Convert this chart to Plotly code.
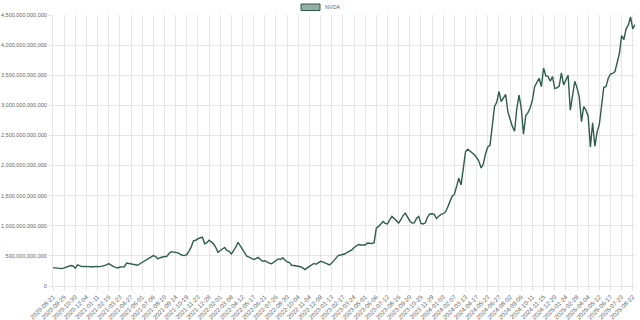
import pandas as pd
import plotly.graph_objects as go

series_name = "NVDA"

tick_labels = [
    "2020-08-21", "2020-09-25", "2020-10-30", "2020-12-04", "2021-01-11", "2021-02-16",
    "2021-03-23", "2021-04-27", "2021-06-01", "2021-07-06", "2021-08-10", "2021-09-14",
    "2021-10-19", "2021-11-23", "2021-12-28", "2022-02-01", "2022-03-08", "2022-04-12",
    "2022-05-17", "2022-06-21", "2022-07-26", "2022-08-30", "2022-10-04", "2022-11-04",
    "2022-12-09", "2023-01-13", "2023-02-17", "2023-03-24", "2023-05-01", "2023-06-06",
    "2023-07-12", "2023-08-16", "2023-09-20", "2023-10-25", "2023-11-29", "2024-01-03",
    "2024-02-07", "2024-03-13", "2024-04-17", "2024-05-23", "2024-06-27", "2024-08-02",
    "2024-09-06", "2024-10-11", "2024-11-15", "2024-12-20", "2025-01-24", "2025-02-28",
    "2025-04-04", "2025-05-12", "2025-06-17", "2025-07-23", "2025-08-22",
]
last_date = "2025-08-29"

# market cap, billions USD
market_cap_b = [
    305, 300, 290, 292, 288, 300, 315, 335, 340, 332,
    296, 350, 330, 322, 325, 318, 322, 320, 315, 325,
    318, 322, 330, 335, 350, 372, 345, 325, 310, 300,
    315, 318, 320, 380, 375, 362, 360, 350, 345, 370,
    392, 410, 430, 455, 470, 505, 490, 452, 470, 482,
    490, 488, 540, 570, 565, 555, 550, 530, 510, 505,
    520, 580, 650, 750, 760, 785, 800, 812, 700, 720,
    760, 735, 700, 640, 560, 590, 620, 640, 590, 575,
    530, 580, 650, 725, 670, 620, 550, 490, 480, 460,
    440, 455, 475, 440, 410, 420, 395, 380, 370, 400,
    430, 450, 440, 470, 430, 400, 390, 345, 340, 335,
    330, 320, 300, 272, 300, 330, 350, 375, 360, 380,
    410, 400, 380, 360, 350, 380, 430, 480, 510, 515,
    525, 535, 560, 580, 600, 640, 670, 690, 680, 675,
    680, 715, 712, 705, 720, 960, 990, 1030, 1070, 1040,
    1030, 1100, 1155, 1120, 1080, 1045, 1100, 1170, 1210, 1150,
    1080, 1045, 1050, 1120, 1155, 1040, 1030, 1050, 1150, 1195,
    1200, 1190, 1120, 1160, 1190, 1200, 1230, 1310, 1410, 1490,
    1520, 1650, 1790, 1680, 1950, 2230, 2270, 2240, 2210, 2180,
    2130, 2070, 1960, 2030, 2200, 2310, 2340, 2650, 2980, 3050,
    3230, 3060, 3120, 3180, 2890, 2760, 2650, 2570, 2950, 3170,
    2950, 2520, 2830, 2880, 2960, 3090, 3310, 3380, 3450, 3310,
    3620, 3490, 3480, 3400, 3480, 3280, 3290, 3320, 3540, 3340,
    3420, 3500, 2920, 3200, 3400, 3290, 3140, 2730, 2980, 2920,
    2820, 2310, 2710, 2320, 2560, 2680, 2980, 3300, 3310, 3450,
    3520, 3530, 3560, 3700, 3860, 4160, 4090, 4270, 4330, 4470,
    4270, 4340,
]

# Build the category dates: each tick label plus 4 intermediate dates
dates = []
for a, b in zip(tick_labels[:-1], tick_labels[1:]):
    rng = pd.date_range(a, b, periods=6)
    dates.extend(d.strftime("%Y-%m-%d") for d in rng[:-1])
dates.append(tick_labels[-1])
dates.append(last_date)

values = [v * 1e9 for v in market_cap_b]
n = min(len(dates), len(values))
dates = dates[:n]
values = values[:n]

line_color = "#2f5d4b"
fill_color = "rgba(47,93,75,0.5)"
grid_color = "#e6e6e6"
text_color = "#666666"
font_family = "Liberation Sans, Arial, Helvetica, sans-serif"

fig = go.Figure()
fig.add_trace(go.Scatter(
    x=dates, y=values, mode="lines", name=series_name,
    line=dict(color=line_color, width=1.4),
    showlegend=False,
))

fig.update_layout(
    width=640, height=320,
    margin=dict(l=53, r=5, t=15, b=34, autoexpand=False),
    paper_bgcolor="white", plot_bgcolor="white",
    font=dict(family=font_family, size=5.5, color=text_color),
    xaxis=dict(
        type="category",
        range=[0, n - 1],
        automargin=False,
        tickmode="array", tickvals=tick_labels, ticktext=tick_labels,
        tickangle=-45,
        showgrid=True, gridcolor=grid_color, gridwidth=1,
        ticks="outside", ticklen=4, tickcolor=grid_color,
        showline=True, linecolor=grid_color,
        tickfont=dict(size=6.2, color=text_color),
        zeroline=False,
    ),
    yaxis=dict(
        range=[0, 4.5e12],
        automargin=False,
        tickmode="linear", tick0=0, dtick=5e11,
        tickformat=",d",
        showgrid=True, gridcolor=grid_color, gridwidth=1,
        ticks="outside", ticklen=4, tickcolor=grid_color,
        showline=True, linecolor=grid_color,
        tickfont=dict(size=5.5, color=text_color),
        zeroline=False,
    ),
    shapes=[dict(
        type="rect", xref="paper", yref="paper",
        x0=(301 - 53) / 582, x1=(320 - 53) / 582,
        y0=(286 - 10.5) / 271, y1=(286 - 4) / 271,
        fillcolor=fill_color, line=dict(color=line_color, width=1),
    )],
    annotations=[dict(
        text=series_name, xref="paper", yref="paper",
        x=(323 - 53) / 582, y=(286 - 7.2) / 271,
        xanchor="left", yanchor="middle", showarrow=False,
        font=dict(size=5.5, color=text_color, family=font_family),
    )],
)

fig.write_html("out.html")
